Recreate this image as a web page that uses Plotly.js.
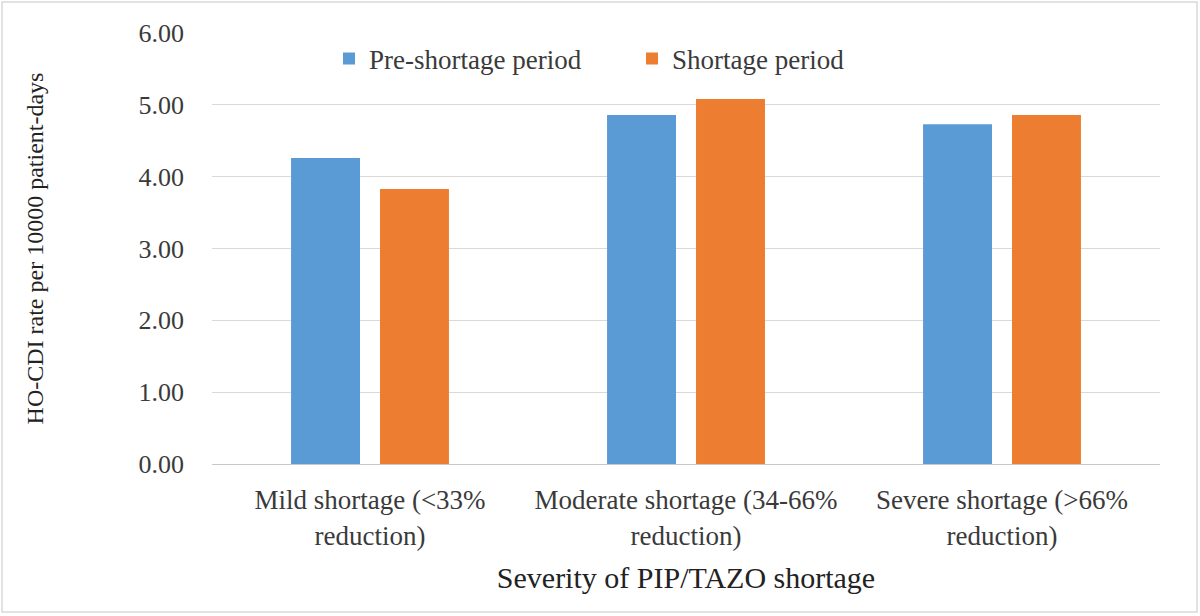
<!DOCTYPE html>
<html>
<head>
<meta charset="utf-8">
<script src="https://cdn.plot.ly/plotly-3.0.1.min.js"></script>
<style>
  html, body { margin: 0; padding: 0; background: #fff; }
  #chart { width: 1200px; height: 616px; }
</style>
</head>
<body>
<div id="chart"></div>
<script>
const categories = [
  "Mild shortage (<33%<br>reduction)",
  "Moderate shortage (34-66%<br>reduction)",
  "Severe shortage (>66%<br>reduction)"
];
const preShortage = [4.26, 4.86, 4.73];
const shortage = [3.83, 5.08, 4.86];
const seriesNames = ["Pre-shortage period", "Shortage period"];
const yTickVals = [0, 1, 2, 3, 4, 5, 6];
const yTickText = ["0.00", "1.00", "2.00", "3.00", "4.00", "5.00", "6.00"];

const W = 1200, H = 616;
const mL = 212, mR = 40, mT = 33, mB = 152;
const pw = W - mL - mR, ph = H - mT - mB;
const px = x => (x - mL) / pw;
const py = y => (H - mB - y) / ph;

const font = "Liberation Serif";
const txt = "#3a3a3a";

const traces = [
  { type: "bar", name: seriesNames[0], x: categories, y: preShortage,
    marker: { color: "#5B9BD5" }, hoverinfo: "y" },
  { type: "bar", name: seriesNames[1], x: categories, y: shortage,
    marker: { color: "#ED7D31" }, hoverinfo: "y" }
];

const layout = {
  width: W, height: H,
  margin: { l: mL, r: mR, t: mT, b: mB, pad: 0 },
  paper_bgcolor: "#fff", plot_bgcolor: "#fff",
  font: { family: font, color: txt, size: 26 },
  barmode: "group",
  bargap: 0.437,
  bargroupgap: 0.225,
  showlegend: true,
  legend: {
    orientation: "h",
    x: px(329), xanchor: "left",
    y: py(59), yanchor: "middle",
    font: { family: font, size: 27, color: txt },
    itemwidth: 30,
    entrywidth: 258, entrywidthmode: "pixels",
    bgcolor: "rgba(0,0,0,0)",
    tracegroupgap: 0
  },
  xaxis: {
    type: "category",
    tickfont: { family: font, size: 27, color: txt },
    showline: true, linecolor: "#c8c8c8", linewidth: 1,
    ticks: "", showgrid: false,
    ticklabelstandoff: 12,
    title: { text: "Severity of PIP/TAZO shortage", font: { family: font, size: 30, color: "#222" }, standoff: 17 }
  },
  yaxis: {
    range: [0, 6],
    tickvals: yTickVals, ticktext: yTickText,
    tickfont: { family: font, size: 26, color: txt },
    showgrid: true, gridcolor: "#d9d9d9", gridwidth: 1,
    zeroline: false, showline: false,
    ticks: "", ticklabelstandoff: 27,
    title: { text: "HO-CDI rate per 10000 patient-days", font: { family: font, size: 24, color: "#222" }, standoff: 88 }
  },
  shapes: [
    { type: "rect", xref: "paper", yref: "paper",
      x0: px(2), x1: px(1197), y0: py(612), y1: py(2),
      line: { color: "#d9d9d9", width: 1.5 }, fillcolor: "rgba(0,0,0,0)", layer: "below" }
  ]
};

Plotly.newPlot("chart", traces, layout, { displayModeBar: false, staticPlot: true });
</script>
</body>
</html>
